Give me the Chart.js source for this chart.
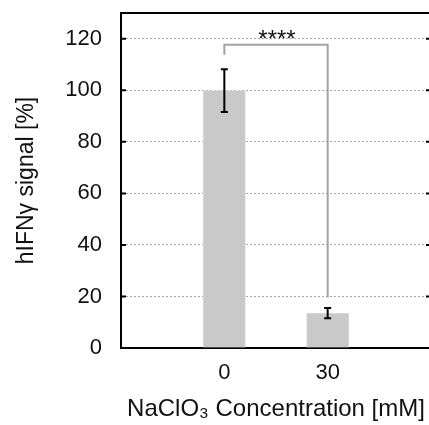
<!DOCTYPE html>
<html>
<head>
<meta charset="utf-8">
<script src="https://cdn.jsdelivr.net/npm/chart.js@4.4.1/dist/chart.umd.min.js"></script>
<style>
  html, body { margin: 0; padding: 0; background: #fff; }
  #wrap { width: 429px; height: 425px; overflow: hidden; }
</style>
</head>
<body>
<div id="wrap"><canvas id="myChart" width="440" height="425"></canvas></div>
<script>
var concentrations = [0, 30];
var signalValues = [99.9, 13.5];
var errorValues = [8.3, 2.0];
var yTicks = [0, 20, 40, 60, 80, 100, 120];
var xTicks = [0, 30];
// bracket: top, left foot, right foot (in %)
var bracketLevels = [117.7, 113.8, 19.6];
var sigLabel = "****";

const FONT = "'Liberation Sans', Arial, sans-serif";

const extras = {
  id: "extras",
  afterDraw(chart) {
    const ctx = chart.ctx;
    const xs = chart.scales.x;
    const ys = chart.scales.y;
    const area = chart.chartArea;
    ctx.save();

    // frame top + right
    ctx.strokeStyle = "#000";
    ctx.lineWidth = 2;
    ctx.beginPath();
    ctx.moveTo(area.left - 1, area.top);
    ctx.lineTo(area.right, area.top);
    ctx.lineTo(area.right, area.bottom);
    ctx.stroke();

    // inward ticks
    yTicks.forEach((v) => {
      const py = ys.getPixelForValue(v);
      ctx.beginPath();
      ctx.moveTo(area.left, py);
      ctx.lineTo(area.left + 5, py);
      ctx.moveTo(area.right - 5, py);
      ctx.lineTo(area.right, py);
      ctx.stroke();
    });

    // error bars
    concentrations.forEach((c, i) => {
      const px = xs.getPixelForValue(c);
      const top = ys.getPixelForValue(signalValues[i] + errorValues[i]);
      const bot = ys.getPixelForValue(signalValues[i] - errorValues[i]);
      ctx.beginPath();
      ctx.moveTo(px, top);
      ctx.lineTo(px, bot);
      ctx.moveTo(px - 3.5, top);
      ctx.lineTo(px + 3.5, top);
      ctx.moveTo(px - 3.5, bot);
      ctx.lineTo(px + 3.5, bot);
      ctx.stroke();
    });

    // significance bracket
    const x0 = xs.getPixelForValue(concentrations[0]);
    const x1 = xs.getPixelForValue(concentrations[1]);
    const yTop = ys.getPixelForValue(bracketLevels[0]);
    ctx.strokeStyle = "#a3a3a3";
    ctx.beginPath();
    ctx.moveTo(x0, ys.getPixelForValue(bracketLevels[1]));
    ctx.lineTo(x0, yTop);
    ctx.lineTo(x1, yTop);
    ctx.lineTo(x1, ys.getPixelForValue(bracketLevels[2]));
    ctx.stroke();

    ctx.fillStyle = "#111";
    ctx.font = "24px " + FONT;
    ctx.textAlign = "center";
    ctx.textBaseline = "alphabetic";
    ctx.fillText(sigLabel, (x0 + x1) / 2 + 1, yTop + 2);

    ctx.restore();
  }
};

const ctx = document.getElementById("myChart").getContext("2d");

const myChart = new Chart(ctx, {
  type: "bar",
  data: {
    datasets: [{
      data: concentrations.map((c, i) => ({ x: c, y: signalValues[i] })),
      backgroundColor: "#c9c9c9",
      borderColor: "#d6d6d6",
      borderWidth: 1,
      barThickness: 42
    }]
  },
  options: {
    responsive: false,
    animation: false,
    layout: { padding: { top: 13, right: 9, left: 0, bottom: 0 } },
    plugins: { legend: { display: false }, tooltip: { enabled: false } },
    scales: {
      x: {
        type: "linear",
        min: -30,
        max: 60,
        offset: false,
        afterBuildTicks: (s) => { s.ticks = xTicks.map((v) => ({ value: v })); },
        afterFit: (s) => { s.height = 77; s.paddingLeft = 0; s.paddingRight = 0; },
        grid: { display: false, offset: false, drawTicks: false },
        border: { display: true, color: "#000", width: 2 },
        ticks: { color: "#111", font: { family: FONT, size: 22 }, padding: 12 },
        title: {
          display: true,
          text: "NaClO\u2083 Concentration [mM]",
          color: "#111",
          font: { family: FONT, size: 24 },
          padding: { top: 0, bottom: 1 }
        }
      },
      y: {
        min: 0,
        max: 130,
        afterBuildTicks: (s) => { s.ticks = yTicks.map((v) => ({ value: v })); },
        afterFit: (s) => { s.width = 121; s.paddingTop = 0; s.paddingBottom = 0; },
        grid: { color: "#a8a8a8", lineWidth: 1, drawTicks: false },
        border: { display: true, color: "#000", width: 2, dash: [2, 2] },
        ticks: { color: "#111", font: { family: FONT, size: 22 }, padding: 19 },
        title: {
          display: true,
          text: "hIFN\u03b3 signal [%]",
          color: "#111",
          font: { family: FONT, size: 23 },
          padding: { top: 13, bottom: 0 }
        }
      }
    }
  },
  plugins: [extras]
});
</script>
</body>
</html>
